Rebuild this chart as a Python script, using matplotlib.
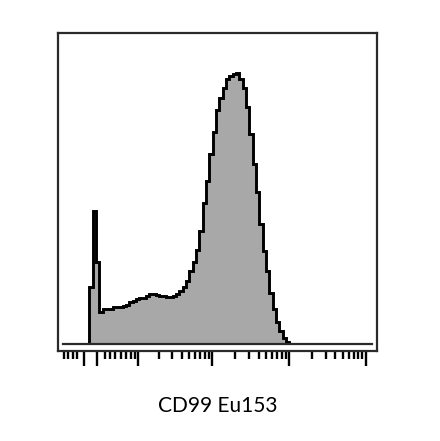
import numpy as np
import matplotlib
matplotlib.use("Agg")
import matplotlib.pyplot as plt

# histogram in arcsinh units (cofactor 5), bin width 0.1
bin_start = 0.0
bin_width = 0.1
counts = [57, 133, 82, 32, 35, 35, 35, 37, 37, 37,
          38, 39, 42, 43, 45, 46, 46, 48, 50, 50,
          49, 48, 48, 47, 47, 48, 50, 53, 57, 63,
          73, 82, 94, 113, 141, 163, 190, 212, 234, 246,
          256, 265, 268, 270, 271, 265, 256, 237, 210, 180,
          152, 120, 93, 73, 51, 35, 22, 13, 6, 2]

cofactor = 5
decades = [10, 100, 1000, 10000]
near_zero_major = [-0.16, 0.23]
near_zero_minor = [-0.76, -0.64, -0.49, -0.37, 0.47, 0.62, 0.77, 0.95, 1.10, 1.25, 1.38]

edges = bin_start + bin_width * np.arange(len(counts) + 1)

major = near_zero_major + list(np.arcsinh(np.array(decades) / cofactor))
minor = near_zero_minor + [np.arcsinh(k * d / cofactor) for d in decades[:-1] for k in range(2, 10)]

fig = plt.figure(figsize=(4.4, 4.41), dpi=100)
ax = fig.add_axes([58/440, (441-351)/441, (377-58)/440, (351-33)/441])

ax.stairs(counts, edges, fill=True, color="#a8a8a8", baseline=0)
ax.stairs(counts, edges, color="black", lw=2.1, baseline=0)
ax.axhline(0, xmin=0.016, xmax=0.984, color="#2a2a2a", lw=1.6)

ax.set_xlim(-0.942, 8.63)
ax.set_ylim(-7, 311)

ax.set_xticks(major)
ax.set_xticks(minor, minor=True)
ax.set_xticklabels([])
ax.set_yticks([])
ax.tick_params(axis="x", which="major", length=10.8, width=1.7, color="black", direction="out")
ax.tick_params(axis="x", which="minor", length=5.8, width=1.7, color="black", direction="out")

for s in ax.spines.values():
    s.set_color("#2a2a2a")
    s.set_linewidth(1.6)

ax.set_xlabel("CD99 Eu153", fontsize=15, family="Lato")
ax.xaxis.set_label_coords(0.5, -0.14)

fig.savefig("out.png", dpi=100)
